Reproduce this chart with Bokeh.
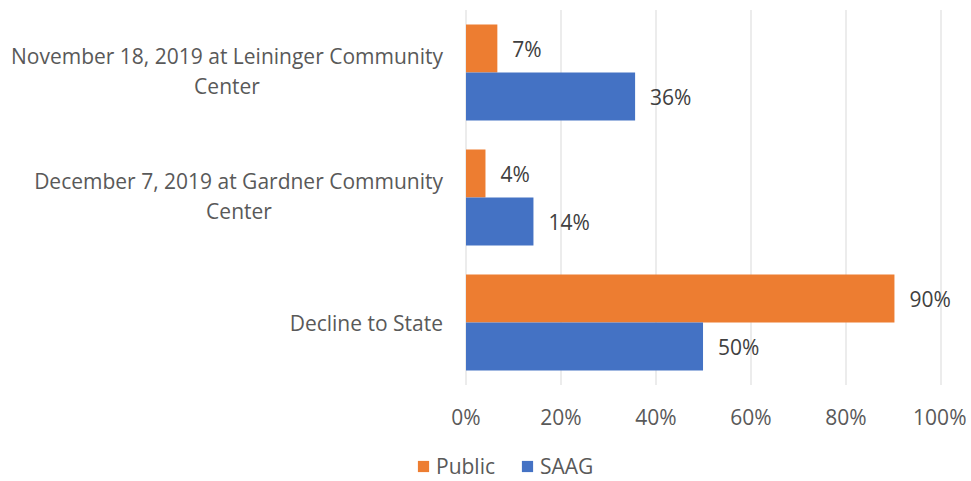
from bokeh.plotting import figure
from bokeh.models import (ColumnDataSource, Range1d, NumeralTickFormatter, Label,
                          LabelSet, Legend, LegendItem, FixedTicker)
from bokeh.core.properties import value
from bokeh.embed import file_html
from bokeh.resources import INLINE

# ---- data ----
categories = ["November 18, 2019 at Leininger Community\nCenter",
              "December 7, 2019 at Gardner Community\nCenter",
              "Decline to State"]
public = [0.066, 0.041, 0.902]
saag = [0.356, 0.142, 0.499]
x_ticks = [0, 0.2, 0.4, 0.6, 0.8, 1.0]
series_names = ["Public", "SAAG"]
series_colors = ["#ED7D31", "#4472C4"]

# ---- layout / style ----
FONT = "Open Sans"
FS = "21px"
W, H = 966, 479
X0_PX, X_SCALE = 465.5, 475.0      # pixel of 0% and pixels per 100%
Y_TOP_CENTER_PX, Y_SCALE = 72.0, 125.0
n = len(categories)
ypos = [n - i - 0.5 for i in range(n)]
BAR_H = 0.384

x_start = -X0_PX / X_SCALE
x_end = (W - X0_PX) / X_SCALE
y_end = (n - 0.5) + Y_TOP_CENTER_PX / Y_SCALE
y_start = y_end - H / Y_SCALE

p = figure(width=W, height=H, x_range=Range1d(x_start, x_end), y_range=Range1d(y_start, y_end),
           output_backend="svg", toolbar_location=None,
           min_border_left=0, min_border_right=0, min_border_top=0, min_border_bottom=0)
p.outline_line_color = None
p.background_fill_color = "white"
p.border_fill_color = "white"
p.yaxis.visible = False
p.grid.visible = False
p.xaxis.fixed_location = 0
p.xaxis.ticker = FixedTicker(ticks=x_ticks)
p.xaxis.formatter = NumeralTickFormatter(format="0%")
p.xaxis.axis_line_color = None
p.xaxis.major_tick_line_color = None
p.xaxis.minor_tick_line_color = None
p.xaxis.major_label_text_font = FONT
p.xaxis.major_label_text_font_size = FS
p.xaxis.major_label_text_color = "#595959"
p.xaxis.major_label_standoff = 12

# gridlines over the plot area only
p.segment(x0=x_ticks, x1=x_ticks, y0=[0] * len(x_ticks), y1=[n] * len(x_ticks),
          line_color="#D9D9D9", line_width=1)

renderers = []
for k, (vals, name, col) in enumerate(zip([public, saag], series_names, series_colors)):
    sign = 1 if k == 0 else -1
    ys = [y + sign * BAR_H / 2 for y in ypos]
    src = ColumnDataSource(dict(y=ys, v=vals, lab=[f"{v*100:.0f}%" for v in vals]))
    r = p.hbar(y="y", left=0, right="v", height=BAR_H, source=src,
               fill_color=col, line_color=None)
    renderers.append(r)
    p.add_layout(LabelSet(x="v", y="y", text="lab", source=src, x_offset=15,
                          text_align="left", text_baseline="middle",
                          text_font=value(FONT), text_font_size=value(FS),
                          text_color="#404040"))

line2_center_offsets = [-239, -227, None]
for cat, yc, off in zip(categories, ypos, line2_center_offsets):
    lines = cat.split("\n")
    if len(lines) == 1:
        p.add_layout(Label(x=0, y=yc, x_offset=-23, y_offset=0, text=lines[0],
                           text_align="right", text_baseline="middle",
                           text_font=FONT, text_font_size=FS, text_color="#595959"))
    else:
        p.add_layout(Label(x=0, y=yc, x_offset=-23, y_offset=17, text=lines[0],
                           text_align="right", text_baseline="middle",
                           text_font=FONT, text_font_size=FS, text_color="#595959"))
        p.add_layout(Label(x=0, y=yc, x_offset=off, y_offset=-13, text=lines[1],
                           text_align="center", text_baseline="middle",
                           text_font=FONT, text_font_size=FS, text_color="#595959"))

legend = Legend(items=[LegendItem(label=nm, renderers=[r]) for nm, r in zip(series_names, renderers)],
                orientation="horizontal", location=(416, -1),
                glyph_width=14, glyph_height=14, label_standoff=6, spacing=25,
                label_height=20, padding=0, margin=0, border_line_color=None,
                background_fill_alpha=0,
                label_text_font=FONT, label_text_font_size=FS, label_text_color="#595959")
p.add_layout(legend, "center")

open("out.html", "w").write(file_html(p, INLINE))
